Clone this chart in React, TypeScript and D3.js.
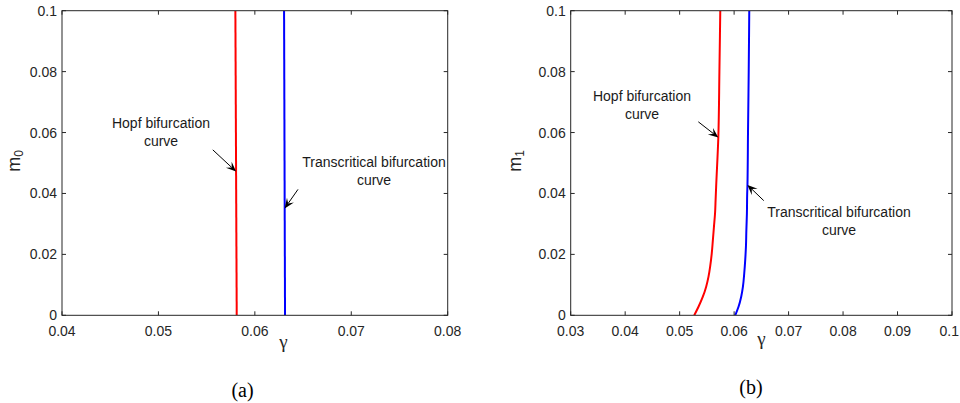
import React from "react";
import * as d3 from "d3";

// ---- Panel (a): bifurcation curves in the (gamma, m0) plane ----
const mLevelsA = [0, 0.1];
const hopfGammaA = [0.05812, 0.05798];
const transGammaA = [0.06313, 0.06303];
const xTicksA = [0.04, 0.05, 0.06, 0.07, 0.08];

// ---- Panel (b): bifurcation curves in the (gamma, m1) plane ----
const hopfLevelsB = [0, 0.0028, 0.0061, 0.0094, 0.0127, 0.016, 0.0204, 0.0247, 0.0291, 0.0335, 0.0378, 0.0422, 0.0584, 0.08, 0.1];
const hopfGammaB = [0.05268, 0.05346, 0.05426, 0.05487, 0.0553, 0.0556, 0.0559, 0.0561, 0.0563, 0.0565, 0.0566, 0.0567, 0.0571, 0.0573, 0.05746];
const transLevelsB = [0, 0.0028, 0.0061, 0.0094, 0.0138, 0.0182, 0.0225, 0.028, 0.0335, 0.04, 0.0428, 0.06, 0.08, 0.1];
const transGammaB = [0.0602, 0.06081, 0.0613, 0.06162, 0.06186, 0.06204, 0.06217, 0.06225, 0.06235, 0.0624, 0.06245, 0.06255, 0.06268, 0.06278];
const xTicksB = [0.03, 0.04, 0.05, 0.06, 0.07, 0.08, 0.09, 0.1];

const yTicks = [0, 0.02, 0.04, 0.06, 0.08, 0.1];

// annotation anchor heights on each curve
const hopfArrowA = 0.0472;
const transArrowA = 0.0351;
const hopfArrowB = 0.0584;
const transArrowB = 0.0428;

const AXIS = "#262626";
const SANS = "'Liberation Sans', Arial, Helvetica, sans-serif";
const SERIF = "'Liberation Serif', 'Times New Roman', serif";
const WIDTH = 960;

type Note = {
  lines: string[];
  cx: number;
  baseline: number;
  m: number;
  levels: number[];
  gammas: number[];
  dx: number;
  dy: number;
};

type PanelProps = {
  left: number;
  right: number;
  xDomain: [number, number];
  xTicks: number[];
  curves: { levels: number[]; gammas: number[]; color: string }[];
  notes: Note[];
  sub: string;
  yLabelX: number;
  gammaX: number;
  gammaY: number;
  caption: string;
  captionX: number;
  captionY: number;
};

const TOP = 10.7;
const BOTTOM = 315.3;

function gammaAt(levels: number[], gammas: number[], m: number) {
  const s = d3.scaleLinear().domain(levels).range(gammas);
  return s(m);
}

function Arrow({ x1, y1, x2, y2 }: { x1: number; y1: number; x2: number; y2: number }) {
  const ang = Math.atan2(y2 - y1, x2 - x1);
  const L = 10;
  const W = 4.2;
  const c = Math.cos(ang);
  const s = Math.sin(ang);
  const p = (u: number, v: number) => [x2 + u * c - v * s, y2 + u * s + v * c];
  const a = p(-L, W);
  const b = p(-L * 0.6, 0);
  const d = p(-L, -W);
  return (
    <g>
      <line x1={x1} y1={y1} x2={b[0]} y2={b[1]} stroke="#000" strokeWidth={1} />
      <path d={`M${x2},${y2}L${a[0]},${a[1]}L${b[0]},${b[1]}L${d[0]},${d[1]}Z`} fill="#000" />
    </g>
  );
}

function Panel(props: PanelProps) {
  const x = d3.scaleLinear().domain(props.xDomain).range([props.left, props.right]);
  const y = d3.scaleLinear().domain([0, 0.1]).range([BOTTOM, TOP]);
  const line = d3
    .line<[number, number]>()
    .x((d) => x(d[0]))
    .y((d) => y(d[1]))
    .curve(d3.curveMonotoneY);
  const fmt = (v: number) => String(+v.toFixed(3));
  const tl = 4;
  return (
    <g>
      <defs>
        <clipPath id={`clip-${props.sub}`}>
          <rect x={props.left} y={TOP} width={props.right - props.left} height={BOTTOM - TOP} />
        </clipPath>
      </defs>
      <g clipPath={`url(#clip-${props.sub})`}>
        {props.curves.map((c, i) => (
          <path
            key={i}
            d={line(c.levels.map((m, j) => [c.gammas[j], m] as [number, number])) || ""}
            fill="none"
            stroke={c.color}
            strokeWidth={2}
          />
        ))}
      </g>
      <rect
        x={props.left}
        y={TOP}
        width={props.right - props.left}
        height={BOTTOM - TOP}
        fill="none"
        stroke={AXIS}
        strokeWidth={1}
      />
      {props.xTicks.map((t) => {
        // keep the last label inside the page edge
        const nearEdge = x(t) + 11 > WIDTH;
        return (
          <g key={`x${t}`}>
            <line x1={x(t)} x2={x(t)} y1={BOTTOM} y2={BOTTOM - tl} stroke={AXIS} />
            <line x1={x(t)} x2={x(t)} y1={TOP} y2={TOP + tl} stroke={AXIS} />
            <text
              x={nearEdge ? WIDTH - 1 : x(t)}
              y={336}
              textAnchor={nearEdge ? "end" : "middle"}
              fontFamily={SANS}
              fontSize={14}
              fill={AXIS}
            >
              {fmt(t)}
            </text>
          </g>
        );
      })}
      {yTicks.map((t) => (
        <g key={`y${t}`}>
          <line x1={props.left} x2={props.left + tl} y1={y(t)} y2={y(t)} stroke={AXIS} />
          <line x1={props.right} x2={props.right - tl} y1={y(t)} y2={y(t)} stroke={AXIS} />
          <text x={props.left - 5} y={y(t) + 5} textAnchor="end" fontFamily={SANS} fontSize={14} fill={AXIS}>
            {fmt(t)}
          </text>
        </g>
      ))}
      <text
        transform={`translate(${props.yLabelX},161) rotate(-90)`}
        textAnchor="middle"
        fontFamily={SANS}
        fontSize={18}
        fill={AXIS}
      >
        m
        <tspan fontSize={12} dy={3}>
          {props.sub}
        </tspan>
      </text>
      <text x={props.gammaX} y={props.gammaY} textAnchor="middle" fontFamily={SERIF} fontSize={19} fill={AXIS}>
        γ
      </text>
      {props.notes.map((n, i) => {
        const tipX = x(gammaAt(n.levels, n.gammas, n.m));
        const tipY = y(n.m);
        return (
          <g key={i}>
            {n.lines.map((s, k) => (
              <text
                key={k}
                x={n.cx}
                y={n.baseline + k * 18}
                textAnchor="middle"
                fontFamily={SANS}
                fontSize={14}
                fill="#1a1a1a"
              >
                {s}
              </text>
            ))}
            <Arrow x1={tipX + n.dx} y1={tipY + n.dy} x2={tipX} y2={tipY} />
          </g>
        );
      })}
      <text x={props.captionX} y={props.captionY} textAnchor="middle" fontFamily={SERIF} fontSize={20} fill="#000">
        {props.caption}
      </text>
    </g>
  );
}

export default function App() {
  return (
    <svg
      width={WIDTH}
      height={403}
      style={{ position: "absolute", left: 0, top: 0, background: "#fff" }}
    >
      <rect width={WIDTH} height={403} fill="#fff" />
      <Panel
        left={62}
        right={447.7}
        xDomain={[0.04, 0.08]}
        xTicks={xTicksA}
        curves={[
          { levels: mLevelsA, gammas: hopfGammaA, color: "#ff0000" },
          { levels: mLevelsA, gammas: transGammaA, color: "#0000ff" },
        ]}
        notes={[
          { lines: ["Hopf bifurcation", "curve"], cx: 161, baseline: 127.7, m: hopfArrowA, levels: mLevelsA, gammas: hopfGammaA, dx: -23.3, dy: -21.7 },
          { lines: ["Transcritical bifurcation", "curve"], cx: 374, baseline: 167.3, m: transArrowA, levels: mLevelsA, gammas: transGammaA, dx: 13.3, dy: -19 },
        ]}
        sub="0"
        yLabelX={20}
        gammaX={283.5}
        gammaY={348}
        caption="(a)"
        captionX={242.5}
        captionY={397}
      />
      <Panel
        left={570.7}
        right={952}
        xDomain={[0.03, 0.1]}
        xTicks={xTicksB}
        curves={[
          { levels: hopfLevelsB, gammas: hopfGammaB, color: "#ff0000" },
          { levels: transLevelsB, gammas: transGammaB, color: "#0000ff" },
        ]}
        notes={[
          { lines: ["Hopf bifurcation", "curve"], cx: 642, baseline: 100.7, m: hopfArrowB, levels: hopfLevelsB, gammas: hopfGammaB, dx: -20, dy: -15.6 },
          { lines: ["Transcritical bifurcation", "curve"], cx: 839, baseline: 216.7, m: transArrowB, levels: transLevelsB, gammas: transGammaB, dx: 16.3, dy: 15.7 },
        ]}
        sub="1"
        yLabelX={521}
        gammaX={761.5}
        gammaY={345}
        caption="(b)"
        captionX={751}
        captionY={394}
      />
    </svg>
  );
}
